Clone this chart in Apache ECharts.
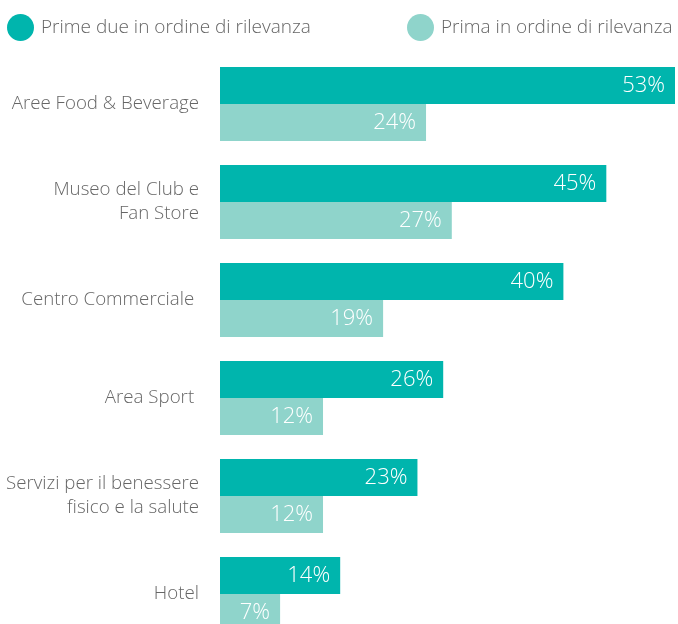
<!DOCTYPE html>
<html>
<head>
<meta charset="utf-8">
<script src="https://cdn.jsdelivr.net/npm/echarts@6/dist/echarts.min.js"></script>
<style>
  html, body { margin: 0; padding: 0; background: #fff; overflow: hidden; }
  #chart { width: 678px; height: 660px; }
</style>
</head>
<body>
<div id="chart"></div>
<script>
// Categories, top to bottom
const categories = [
  'Aree Food & Beverage',
  'Museo del Club e\nFan Store',
  'Centro Commerciale ',
  'Area Sport ',
  'Servizi per il benessere\nfisico e la salute',
  'Hotel'
];
const seriesNames = ['Prime due in ordine di rilevanza', 'Prima in ordine di rilevanza'];
const primeDue = [53, 45, 40, 26, 23, 14];
const prima = [24, 27, 19, 12, 12, 7];

const FONT = '"Open Sans", "Noto Sans", sans-serif';
const chart = echarts.init(document.getElementById('chart'), null, { renderer: 'canvas' });

const labelStyle = {
  show: true,
  position: 'insideRight',
  distance: 10,
  formatter: '{c}%',
  color: '#ffffff',
  fontFamily: FONT,
  fontWeight: 300,
  fontSize: 22
};

function legendItem(name, left) {
  return {
    top: 9,
    left: left,
    itemWidth: 27,
    itemHeight: 27,
    icon: 'circle',
    textStyle: { fontFamily: FONT, fontWeight: 300, fontSize: 19, color: '#666666', padding: [0, 0, 0, 2] },
    data: [name]
  };
}

chart.setOption({
  animation: false,
  legend: [legendItem(seriesNames[0], 2), legendItem(seriesNames[1], 402)],
  // the last group runs past the bottom edge of the visible area
  grid: { left: 220, right: 3, top: 55, height: 588, containLabel: false },
  xAxis: {
    type: 'value', min: 0, max: 53,
    show: false
  },
  yAxis: {
    type: 'category',
    inverse: true,
    data: categories,
    axisLine: { show: false },
    axisTick: { show: false },
    axisLabel: {
      margin: 21,
      fontFamily: FONT,
      fontWeight: 300,
      fontSize: 18.7,
      lineHeight: 24,
      color: '#666666',
      align: 'right'
    }
  },
  series: [
    {
      name: seriesNames[0], type: 'bar', data: primeDue,
      barWidth: 37, barGap: '0%',
      itemStyle: { color: '#00B5AD' },
      label: labelStyle
    },
    {
      name: seriesNames[1], type: 'bar', data: prima,
      barWidth: 37,
      itemStyle: { color: '#8FD4CB' },
      label: labelStyle
    }
  ]
});
</script>
</body>
</html>
